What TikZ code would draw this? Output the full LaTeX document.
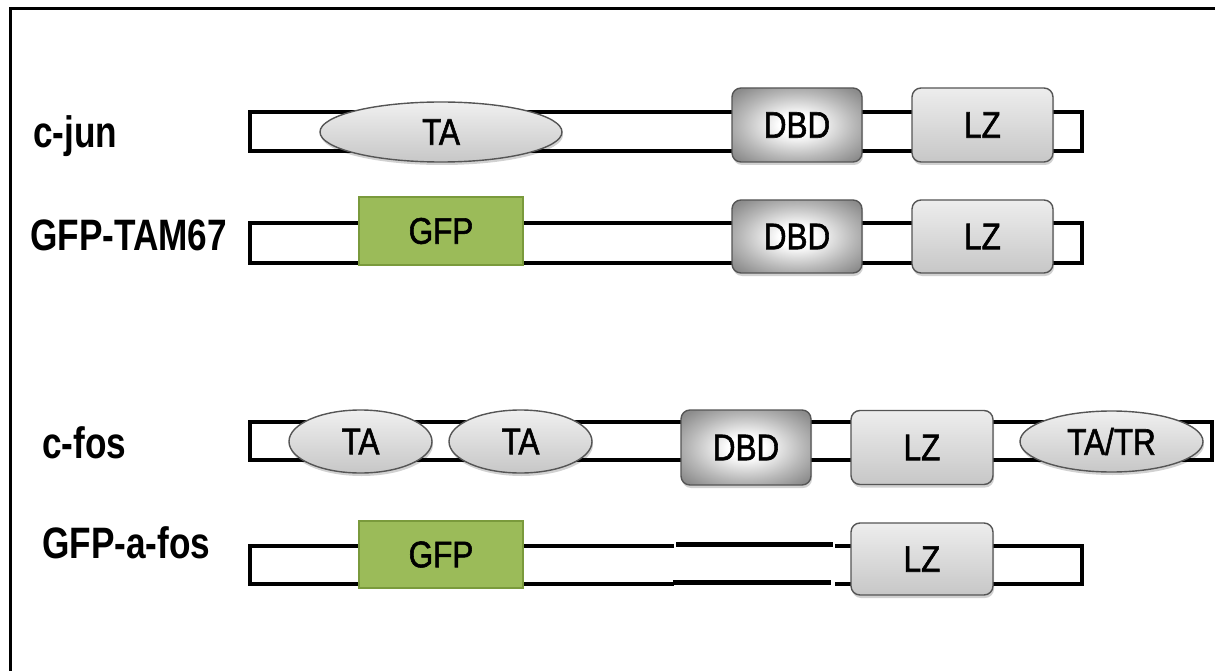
\documentclass[tikz,border=0pt]{standalone}
\usepackage{fontspec}
\setmainfont{Liberation Sans}
\newfontfamily\namefont[FakeStretch=0.8]{Liberation Sans}
\newfontfamily\domfont[FakeStretch=0.85, FakeBold=1.5]{Liberation Sans}
\usetikzlibrary{shapes.geometric,shadows}
\definecolor{gfpgreen}{HTML}{9BBB59}
\definecolor{gfpedge}{HTML}{7A9A3C}
\definecolor{domedge}{HTML}{555555}
% DNA-binding domain: bright centre fading to grey rim
\pgfdeclareradialshading{dbdshade}{\pgfpoint{0bp}{0bp}}{%
  color(0bp)=(white); color(7bp)=(white); color(22bp)=(black!28);
  color(32bp)=(black!45); color(50bp)=(black!50)}
\tikzset{
  protein/.style={draw=black, line width=3.2pt, fill=white, inner sep=0pt},
  dombase/.style={draw=domedge, line width=1.4pt, inner sep=0pt,
    font=\domfont\fontsize{37}{40}\selectfont,
    drop shadow={shadow xshift=1pt, shadow yshift=-3pt, opacity=0.18, fill=black}},
  dbd/.style={dombase, rectangle, rounded corners=9pt, shading=dbdshade},
  lz/.style={dombase, rectangle, rounded corners=9pt,
    top color=black!7, bottom color=black!22},
  ta/.style={dombase, ellipse, top color=black!6, bottom color=black!22},
  gfp/.style={draw=gfpedge, line width=1.6pt, fill=gfpgreen, inner sep=0pt,
    font=\domfont\fontsize{37}{40}\selectfont},
  protlabel/.style={anchor=base west, inner sep=0pt,
    font=\namefont\bfseries\fontsize{44}{48}\selectfont},
  gapline/.style={line width=5pt},
  thinline/.style={line width=3.2pt},
}
\begin{document}
\begin{tikzpicture}[x=1pt, y=-1pt]
\useasboundingbox (0,0) rectangle (1215,671);

% outer frame (open to the right and bottom)
\draw[line width=3pt] (1215,9) -- (10,9) -- (10,671);

% ---------------- c-jun ----------------
\node[protlabel] (ljun) at (33,148) {c-jun};
\node[protein, minimum width=832pt, minimum height=39pt] (pjun) at (666,131.5) {};
\node[ta, minimum width=242pt, minimum height=60pt] (jta) at (441,132) {TA};
\node[dbd, minimum width=130pt, minimum height=74pt] (jdbd) at (797,125) {DBD};
\node[lz, minimum width=141pt, minimum height=74pt] (jlz) at (982.5,125) {LZ};

% ---------------- GFP-TAM67 ----------------
\node[protlabel] (ltam) at (30,250) {GFP-TAM67};
\node[protein, minimum width=832pt, minimum height=40pt] (ptam) at (666,243) {};
\node[gfp, minimum width=164pt, minimum height=68pt] (tgfp) at (441,231) {GFP};
\node[dbd, minimum width=130pt, minimum height=73pt] (tdbd) at (797,236.5) {DBD};
\node[lz, minimum width=141pt, minimum height=73pt] (tlz) at (982.5,236.5) {LZ};

% ---------------- c-fos ----------------
\node[protlabel] (lfos) at (42,458) {c-fos};
\node[protein, minimum width=962pt, minimum height=38pt] (pfos) at (731,441) {};
\node[ta, minimum width=143pt, minimum height=63pt] (fta1) at (360.5,441.5) {TA};
\node[ta, minimum width=143pt, minimum height=63pt] (fta2) at (520.5,441.5) {TA};
\node[dbd, minimum width=130pt, minimum height=75pt] (fdbd) at (746,447.5) {DBD};
\node[lz, minimum width=142pt, minimum height=74pt] (flz) at (922,447.5) {LZ};
\node[ta, minimum width=183pt, minimum height=61pt] (ftatr) at (1111.5,441.5) {TA/TR};

% ---------------- GFP-a-fos ----------------
\node[protlabel] (lafos) at (42,558) {GFP-a-fos};
\coordinate (aL1) at (250,546);
\coordinate (aL2) at (250,584);
\coordinate (aR1) at (1082,546);
\coordinate (aR2) at (1082,584);
\coordinate (g1a) at (674,546);
\coordinate (g2a) at (674,584);
\coordinate (g1b) at (835,546);
\coordinate (g2b) at (835,584);
\draw[thinline, line join=miter] (g1a) -- (aL1) -- (aL2) -- (g2a);
\draw[thinline, line join=miter] (g1b) -- (aR1) -- (aR2) -- (g2b);
% replaced DBD region drawn as heavier strokes
\coordinate (s1a) at (676,544.5);
\coordinate (s1b) at (833,544.5);
\coordinate (s2a) at (673,582.5);
\coordinate (s2b) at (831,582.5);
\draw[gapline] (s1a) -- (s1b);
\draw[gapline] (s2a) -- (s2b);
\node[gfp, minimum width=164pt, minimum height=67pt] (agfp) at (441,554.5) {GFP};
\node[lz, minimum width=142pt, minimum height=72pt] (alz) at (922,559) {LZ};

\end{tikzpicture}
\end{document}
